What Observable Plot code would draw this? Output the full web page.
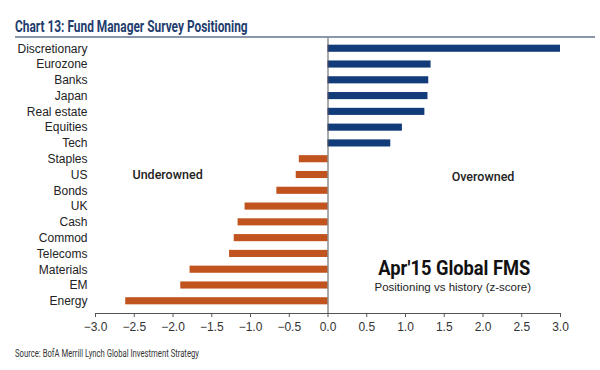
<!DOCTYPE html>
<html>
<head>
<meta charset="utf-8">
<script src="https://cdn.jsdelivr.net/npm/d3@7"></script>
<script src="https://cdn.jsdelivr.net/npm/@observablehq/plot@0.6"></script>
<style>
  html, body { margin: 0; padding: 0; background: #fff; }
  #wrap { position: relative; width: 600px; height: 370px; overflow: hidden; font-family: "Liberation Sans", Arial, sans-serif; }
  #title { position: absolute; left: 15px; top: 17px; width: 580px; border-bottom: 2px solid #8a97ab; padding-bottom: 0px; line-height: 19px; z-index: 2; white-space: nowrap; }
  #title span { display: inline-block; font-family: Roboto, sans-serif; font-weight: bold; font-size: 17px; color: #1f3d6e; transform: scaleX(0.70); transform-origin: left center; }
  #chart { position: absolute; left: 0; top: 0; }
  #source { position: absolute; left: 15px; top: 343px; white-space: nowrap; }
  #source span { display: inline-block; font-family: Roboto, sans-serif; font-size: 10px; color: #333; transform: scaleX(0.77); transform-origin: left center; }
</style>
</head>
<body>
<div id="wrap">
  <div id="title"><span>Chart 13: Fund Manager Survey Positioning</span></div>
  <div id="chart"></div>
  <div id="source"><span>Source: BofA Merrill Lynch Global Investment Strategy</span></div>
</div>
<script>
const categories = ["Discretionary","Eurozone","Banks","Japan","Real estate","Equities","Tech","Staples","US","Bonds","UK","Cash","Commod","Telecoms","Materials","EM","Energy"];
const zScores = [3.0, 1.33, 1.30, 1.29, 1.25, 0.96, 0.81, -0.37, -0.41, -0.66, -1.07, -1.16, -1.21, -1.27, -1.78, -1.90, -2.61];
const xTicks = [-3.0, -2.5, -2.0, -1.5, -1.0, -0.5, 0.0, 0.5, 1.0, 1.5, 2.0, 2.5, 3.0];

const data = categories.map((c, i) => ({category: c, value: zScores[i]}));

const plot = Plot.plot({
  width: 600,
  height: 340,
  marginLeft: 95,
  marginRight: 40,
  marginTop: 36,
  marginBottom: 27,
  style: {fontFamily: "'Liberation Sans', Arial, sans-serif", fontSize: "12px", color: "#222", background: "transparent"},
  x: {domain: [-3, 3], ticks: xTicks, tickFormat: d3.format(".1f"), label: null},
  y: {domain: categories, label: null, paddingInner: 0.55, paddingOuter: 0.55, round: false},
  marks: [
    Plot.barX(data, {y: "category", x: "value", fill: d => d.value >= 0 ? "#123b7a" : "#c0531e"}),
    Plot.ruleX([0], {stroke: "#555", strokeWidth: 1}),
    Plot.frame({anchor: "bottom", stroke: "#555"}),
    Plot.axisX({ticks: xTicks, tickFormat: d3.format(".1f"), tickSize: 4, tickPadding: 5, stroke: "#555", fill: "#333", fontSize: 12, label: null}),
    Plot.axisY({tickSize: 0, tickPadding: 8, fontSize: 12, fill: "#222", label: null}),
    Plot.text(["Underowned"], {x: -2.07, y: ["US"], text: d => d, fontSize: 12.5, fontFamily: "Roboto, sans-serif", fontWeight: 500, fill: "#222"}),
    Plot.text(["Overowned"], {x: 2.0, y: ["US"], dy: 2, text: d => d, fontSize: 12.5, fontFamily: "Roboto, sans-serif", fontWeight: 500, fill: "#222"}),
    Plot.text(["Apr'15 Global FMS"], {x: 1.63, y: ["Materials"], dy: -1, text: d => d, fontSize: 21, fontFamily: "Roboto, sans-serif", fontWeight: "bold", fill: "#111", className: "fms-title"}),
    Plot.text(["Positioning vs history (z-score)"], {x: 1.61, y: ["EM"], dy: 2, text: d => d, fontSize: 11.5, fill: "#222"})
  ]
});
d3.select(plot).selectAll(".fms-title text").attr("textLength", 152).attr("lengthAdjust", "spacingAndGlyphs");
document.getElementById("chart").appendChild(plot);
</script>
</body>
</html>
